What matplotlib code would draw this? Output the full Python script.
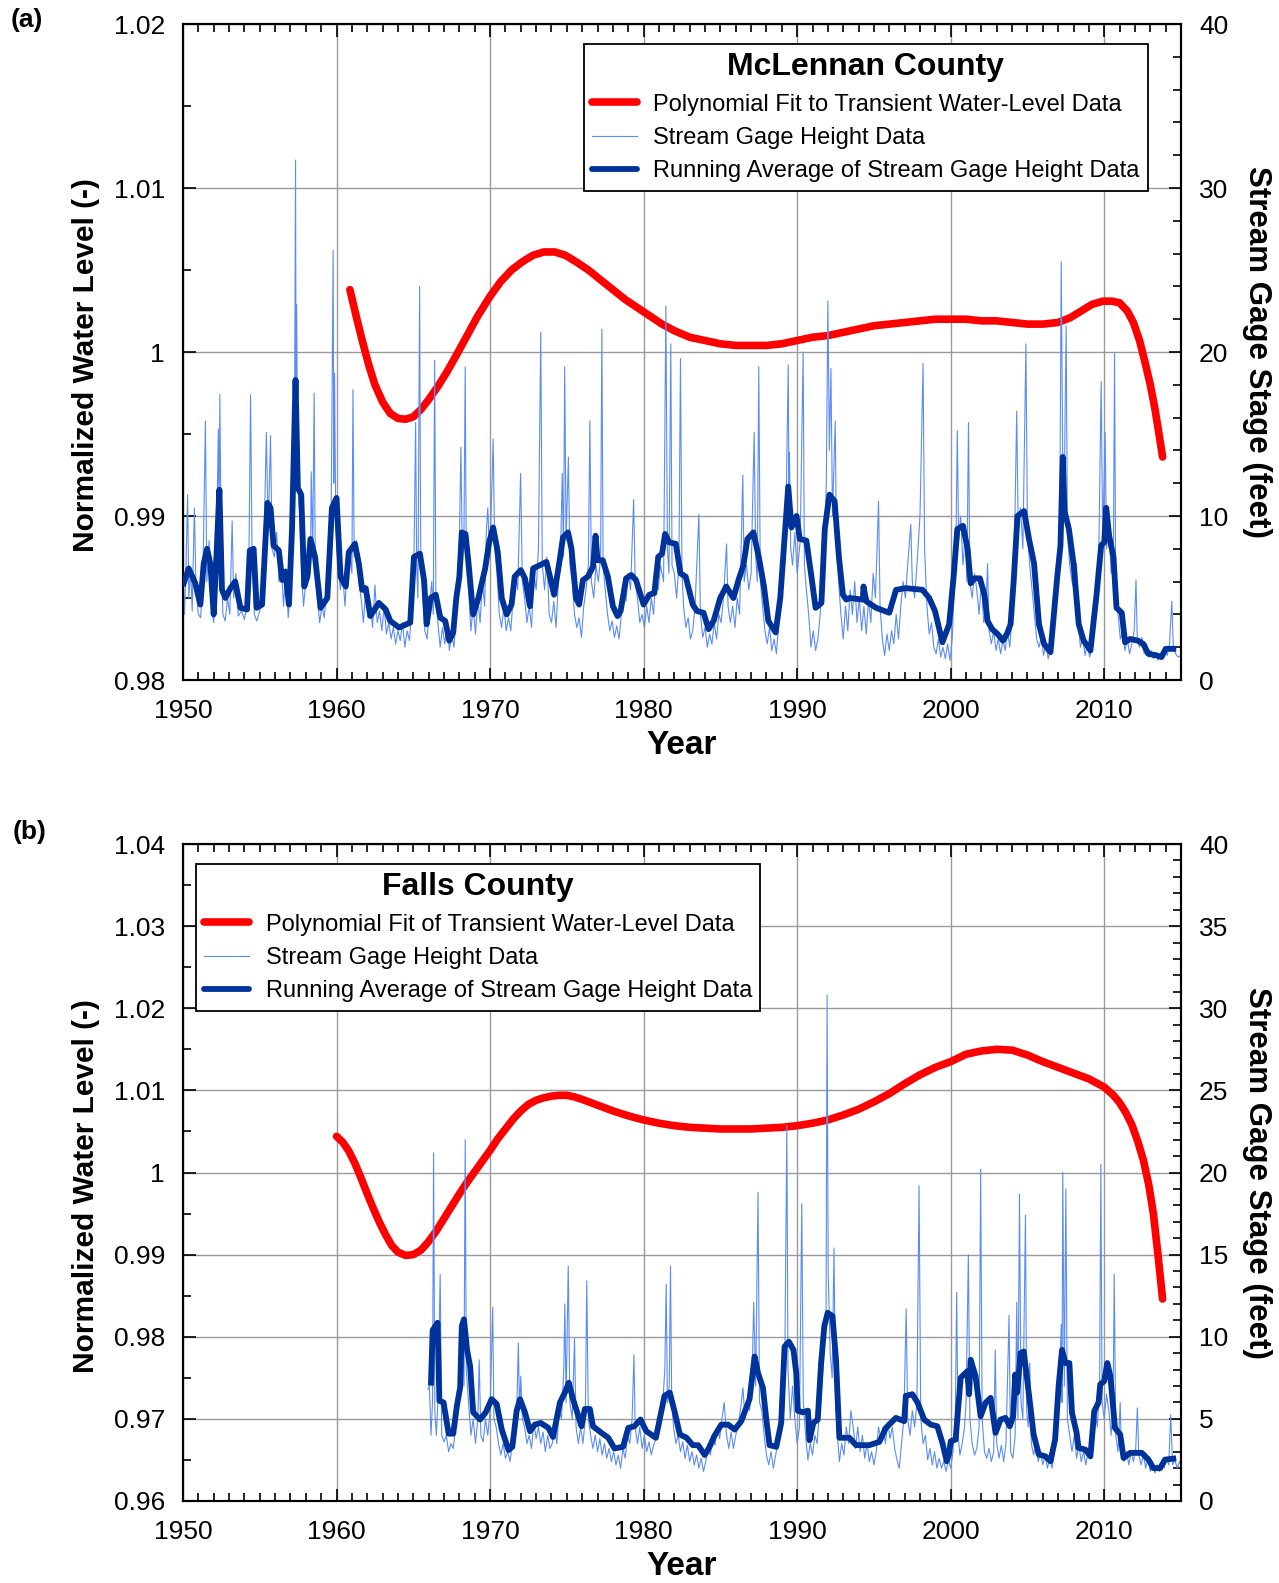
import numpy as np
import matplotlib
matplotlib.use('Agg')
import matplotlib.pyplot as plt
from matplotlib.ticker import MultipleLocator, FuncFormatter
from matplotlib.lines import Line2D

plt.rcParams['font.family'] = ['Liberation Sans', 'DejaVu Sans']

RED = '#ff0000'
RAW = '#5b8cf5'
AVG = '#003399'

# ---- (a) McLennan County ----
# polynomial fit (year, normalized level)
fit_a = [(1960.87, 1.0038), (1961.3, 1.0021), (1961.7, 1.0006), (1962.1, 0.9992), (1962.5, 0.9980),
         (1963.0, 0.99695), (1963.5, 0.99625), (1964.0, 0.99595), (1964.5, 0.9959), (1965.0, 0.99605),
         (1965.5, 0.9965), (1966.0, 0.9971), (1966.6, 0.9979), (1967.2, 0.9988), (1967.8, 0.9998),
         (1968.5, 1.0010), (1969.2, 1.0022), (1970.0, 1.0034), (1970.7, 1.0043), (1971.4, 1.0050),
         (1972.1, 1.0055), (1972.8, 1.0059), (1973.5, 1.0061), (1974.2, 1.0061), (1974.9, 1.0059),
         (1975.6, 1.0055), (1976.4, 1.0050), (1977.2, 1.0044), (1978.0, 1.0038), (1978.8, 1.0032),
         (1979.6, 1.0027), (1980.4, 1.0022), (1981.2, 1.0017), (1982.0, 1.0013), (1983.0, 1.0009),
         (1984.0, 1.0007), (1985.0, 1.0005), (1986.0, 1.0004), (1987.0, 1.0004), (1988.0, 1.0004),
         (1989.0, 1.0005), (1990.0, 1.0007), (1991.0, 1.0009), (1992.0, 1.0010), (1993.0, 1.0012),
         (1994.0, 1.0014), (1995.0, 1.0016), (1996.0, 1.0017), (1997.0, 1.0018), (1998.0, 1.0019),
         (1999.0, 1.0020), (2000.0, 1.0020), (2001.0, 1.0020), (2002.0, 1.0019), (2003.0, 1.0019),
         (2004.0, 1.0018), (2005.0, 1.0017), (2006.0, 1.0017), (2007.0, 1.0018), (2007.8, 1.0021),
         (2008.5, 1.0025), (2009.2, 1.0029), (2009.9, 1.0031), (2010.5, 1.0031), (2011.0, 1.0030),
         (2011.5, 1.0025), (2011.9, 1.0018), (2012.3, 1.0007), (2012.7, 0.9992), (2013.0, 0.9980),
         (2013.3, 0.99655), (2013.55, 0.9951), (2013.8, 0.9936)]

# stream gage height (year, feet)
gage_a = [(1950.0, 6.5), (1950.1, 4.0), (1950.2, 7.2), (1950.3, 11.3), (1950.38, 5.0), (1950.5, 6.8),
          (1950.6, 4.2), (1950.74, 10.5), (1950.85, 5.5), (1951.0, 4.0), (1951.15, 3.8), (1951.3, 6.5),
          (1951.46, 15.8), (1951.55, 6.0), (1951.7, 8.5), (1951.85, 4.5), (1952.0, 3.5), (1952.15, 6.0),
          (1952.3, 15.3), (1952.35, 9.0), (1952.4, 17.4), (1952.5, 7.0), (1952.6, 4.0), (1952.75, 3.6),
          (1952.9, 5.0), (1953.05, 4.0), (1953.2, 9.7), (1953.3, 5.0), (1953.45, 6.5), (1953.6, 3.9),
          (1953.8, 4.2), (1954.0, 3.7), (1954.15, 4.5), (1954.3, 8.0), (1954.4, 17.4), (1954.5, 7.5),
          (1954.65, 4.0), (1954.8, 3.6), (1955.0, 4.2), (1955.15, 6.0), (1955.3, 9.5), (1955.43, 15.1),
          (1955.55, 9.0), (1955.7, 14.9), (1955.8, 8.0), (1955.95, 7.5), (1956.1, 9.0), (1956.25, 6.0),
          (1956.4, 7.0), (1956.55, 4.5), (1956.7, 6.8), (1956.85, 3.8), (1957.0, 5.5), (1957.15, 9.0),
          (1957.25, 12.0), (1957.33, 31.7), (1957.37, 14.0), (1957.4, 22.9), (1957.48, 12.0), (1957.6, 10.0),
          (1957.75, 6.0), (1957.85, 4.5), (1958.0, 6.0), (1958.15, 8.0), (1958.3, 6.5), (1958.35, 12.7),
          (1958.45, 8.0), (1958.54, 17.5), (1958.62, 6.5), (1958.75, 5.0), (1958.9, 3.5), (1959.05, 4.5),
          (1959.2, 3.8), (1959.35, 5.5), (1959.5, 8.5), (1959.65, 10.0), (1959.78, 26.2), (1959.82, 12.0),
          (1959.87, 18.7), (1959.95, 9.5), (1960.1, 7.0), (1960.25, 5.5), (1960.4, 6.5), (1960.55, 4.5),
          (1960.7, 7.0), (1960.85, 8.0), (1961.0, 6.5), (1961.07, 17.7), (1961.15, 7.5), (1961.3, 8.5),
          (1961.45, 6.0), (1961.6, 5.0), (1961.75, 3.5), (1961.9, 5.5), (1962.05, 3.8), (1962.2, 4.5),
          (1962.35, 3.2), (1962.5, 5.8), (1962.65, 3.5), (1962.8, 4.2), (1962.95, 3.0), (1963.1, 4.5),
          (1963.25, 2.8), (1963.4, 3.5), (1963.55, 2.5), (1963.7, 3.2), (1963.85, 2.2), (1964.0, 3.0),
          (1964.15, 2.4), (1964.3, 3.5), (1964.45, 2.0), (1964.6, 3.0), (1964.75, 2.4), (1964.9, 4.5),
          (1965.05, 8.0), (1965.15, 15.7), (1965.22, 7.0), (1965.3, 5.0), (1965.41, 24.0), (1965.48, 8.0),
          (1965.6, 5.5), (1965.75, 3.0), (1965.9, 2.5), (1966.05, 4.5), (1966.2, 6.0), (1966.3, 4.0),
          (1966.39, 19.5), (1966.47, 5.0), (1966.6, 3.5), (1966.75, 2.0), (1966.9, 3.2), (1967.05, 2.2),
          (1967.2, 3.5), (1967.35, 1.8), (1967.5, 2.8), (1967.65, 2.0), (1967.8, 4.0), (1967.95, 5.5),
          (1968.1, 14.2), (1968.2, 7.0), (1968.3, 9.0), (1968.38, 19.1), (1968.45, 7.0), (1968.6, 5.5),
          (1968.75, 3.0), (1968.9, 4.5), (1969.05, 2.8), (1969.2, 5.0), (1969.35, 3.5), (1969.5, 6.0),
          (1969.65, 4.5), (1969.75, 9.0), (1969.85, 10.5), (1969.95, 8.0), (1970.05, 9.5), (1970.2, 14.7),
          (1970.3, 8.0), (1970.45, 6.5), (1970.6, 4.0), (1970.75, 3.2), (1970.9, 4.5), (1971.05, 3.0),
          (1971.2, 3.8), (1971.35, 3.0), (1971.5, 5.0), (1971.65, 6.5), (1971.8, 5.5), (1971.99, 12.6),
          (1972.1, 6.0), (1972.25, 5.0), (1972.4, 3.5), (1972.55, 4.5), (1972.7, 3.2), (1972.85, 6.5),
          (1973.0, 5.5), (1973.15, 8.0), (1973.3, 21.2), (1973.4, 7.0), (1973.55, 5.5), (1973.7, 7.5),
          (1973.85, 4.0), (1974.0, 3.5), (1974.15, 4.8), (1974.3, 3.2), (1974.45, 6.0), (1974.6, 8.0),
          (1974.7, 12.6), (1974.78, 7.5), (1974.86, 19.1), (1974.95, 8.5), (1975.1, 13.6), (1975.2, 7.0),
          (1975.35, 6.0), (1975.5, 4.0), (1975.65, 3.2), (1975.8, 3.8), (1975.95, 2.6), (1976.1, 4.5),
          (1976.25, 5.5), (1976.4, 7.0), (1976.5, 15.8), (1976.6, 6.0), (1976.75, 5.0), (1976.9, 7.0),
          (1977.05, 6.0), (1977.2, 7.5), (1977.28, 21.4), (1977.36, 7.0), (1977.5, 5.5), (1977.65, 4.0),
          (1977.8, 3.0), (1977.95, 3.6), (1978.1, 2.6), (1978.25, 3.3), (1978.4, 2.5), (1978.55, 4.0),
          (1978.7, 5.5), (1978.85, 4.8), (1979.0, 6.5), (1979.15, 5.5), (1979.35, 11.0), (1979.45, 6.0),
          (1979.6, 5.0), (1979.75, 3.5), (1979.9, 4.0), (1980.05, 3.2), (1980.2, 4.5), (1980.35, 3.5),
          (1980.5, 5.0), (1980.65, 4.0), (1980.8, 6.5), (1980.95, 5.5), (1981.1, 7.0), (1981.3, 6.0),
          (1981.45, 22.8), (1981.55, 8.0), (1981.65, 6.5), (1981.77, 20.5), (1981.85, 7.0), (1982.0, 6.5),
          (1982.15, 5.0), (1982.3, 7.0), (1982.4, 19.6), (1982.5, 6.5), (1982.6, 4.5), (1982.75, 3.2),
          (1982.9, 3.8), (1983.05, 2.5), (1983.2, 3.0), (1983.35, 4.5), (1983.6, 10.1), (1983.7, 4.0),
          (1983.85, 2.6), (1984.0, 3.2), (1984.15, 2.0), (1984.3, 2.8), (1984.45, 2.2), (1984.6, 3.5),
          (1984.75, 2.5), (1984.9, 4.0), (1985.05, 3.5), (1985.2, 5.0), (1985.4, 8.3), (1985.5, 4.5),
          (1985.65, 3.5), (1985.8, 4.5), (1985.95, 3.2), (1986.1, 5.0), (1986.25, 4.0), (1986.46, 12.5),
          (1986.55, 6.0), (1986.7, 7.0), (1986.85, 5.5), (1987.0, 6.5), (1987.2, 15.1), (1987.3, 7.5),
          (1987.4, 6.0), (1987.5, 19.1), (1987.6, 6.0), (1987.75, 4.5), (1987.9, 3.0), (1988.05, 2.2),
          (1988.2, 3.2), (1988.35, 1.8), (1988.5, 2.5), (1988.65, 1.6), (1988.8, 3.5), (1988.95, 5.0),
          (1989.1, 7.0), (1989.25, 9.0), (1989.42, 19.2), (1989.46, 12.0), (1989.5, 13.9), (1989.58, 8.0),
          (1989.7, 7.0), (1989.85, 9.0), (1990.0, 6.5), (1990.2, 8.5), (1990.39, 20.0), (1990.47, 7.0),
          (1990.6, 5.5), (1990.75, 4.0), (1990.9, 2.0), (1991.05, 3.0), (1991.2, 1.8), (1991.35, 2.5),
          (1991.5, 4.0), (1991.65, 6.5), (1991.8, 9.0), (1991.9, 12.0), (1992.0, 23.1), (1992.1, 14.0),
          (1992.2, 19.0), (1992.3, 10.0), (1992.48, 15.8), (1992.56, 8.0), (1992.7, 6.0), (1992.85, 4.0),
          (1993.0, 2.5), (1993.15, 4.5), (1993.3, 3.0), (1993.45, 5.5), (1993.6, 4.0), (1993.75, 6.0),
          (1993.9, 3.5), (1994.05, 5.0), (1994.2, 3.0), (1994.35, 4.5), (1994.5, 2.8), (1994.65, 5.0),
          (1994.8, 3.5), (1994.95, 6.5), (1995.1, 5.0), (1995.3, 10.9), (1995.4, 4.5), (1995.55, 2.5),
          (1995.7, 1.5), (1995.85, 2.8), (1996.0, 1.8), (1996.15, 3.0), (1996.3, 2.2), (1996.45, 4.0),
          (1996.6, 2.5), (1996.75, 4.5), (1996.9, 6.0), (1997.05, 5.0), (1997.2, 7.0), (1997.4, 9.5),
          (1997.5, 6.0), (1997.65, 5.0), (1997.8, 7.0), (1998.0, 10.0), (1998.2, 19.3), (1998.3, 8.0),
          (1998.45, 4.5), (1998.6, 2.8), (1998.75, 3.5), (1998.9, 2.0), (1999.05, 1.6), (1999.2, 2.5),
          (1999.35, 1.4), (1999.5, 2.0), (1999.65, 1.3), (1999.8, 2.2), (1999.95, 1.2), (2000.1, 2.5),
          (2000.25, 6.0), (2000.35, 9.0), (2000.43, 15.2), (2000.52, 8.5), (2000.65, 10.0), (2000.8, 7.0),
          (2000.95, 9.0), (2001.05, 6.0), (2001.16, 15.7), (2001.25, 6.0), (2001.4, 5.0), (2001.55, 6.5),
          (2001.7, 5.5), (2001.85, 4.0), (2002.0, 6.0), (2002.15, 3.5), (2002.3, 4.5), (2002.4, 7.1),
          (2002.5, 3.0), (2002.65, 2.2), (2002.8, 3.0), (2002.95, 1.8), (2003.1, 2.5), (2003.25, 1.6),
          (2003.4, 2.4), (2003.55, 1.8), (2003.7, 3.0), (2003.85, 2.0), (2004.0, 4.0), (2004.15, 8.0),
          (2004.3, 16.4), (2004.4, 9.0), (2004.55, 10.5), (2004.7, 8.0), (2004.9, 20.5), (2005.0, 9.0),
          (2005.15, 7.0), (2005.3, 5.5), (2005.45, 4.0), (2005.6, 2.5), (2005.75, 2.0), (2005.9, 2.6),
          (2006.05, 1.5), (2006.2, 2.2), (2006.35, 1.3), (2006.5, 1.8), (2006.65, 2.5), (2006.8, 5.0),
          (2006.95, 7.0), (2007.1, 9.0), (2007.2, 25.5), (2007.3, 13.0), (2007.4, 12.0), (2007.52, 21.6),
          (2007.6, 9.0), (2007.75, 7.0), (2007.9, 6.0), (2008.05, 5.5), (2008.2, 7.1), (2008.3, 3.5),
          (2008.45, 2.0), (2008.6, 2.6), (2008.75, 1.5), (2008.9, 2.2), (2009.05, 1.4), (2009.2, 2.0),
          (2009.35, 3.5), (2009.5, 5.5), (2009.65, 8.0), (2009.8, 18.2), (2009.9, 8.5), (2010.06, 15.1),
          (2010.15, 8.0), (2010.3, 9.5), (2010.45, 6.5), (2010.6, 8.0), (2010.67, 19.9), (2010.75, 5.0),
          (2010.9, 4.0), (2011.05, 2.5), (2011.2, 3.0), (2011.35, 1.8), (2011.5, 2.5), (2011.65, 1.6),
          (2011.8, 2.2), (2011.95, 3.0), (2012.07, 6.1), (2012.15, 2.5), (2012.3, 2.0), (2012.45, 2.6),
          (2012.6, 1.6), (2012.75, 2.2), (2012.9, 1.4), (2013.05, 1.8), (2013.2, 1.3), (2013.35, 1.7),
          (2013.5, 1.2), (2013.65, 1.6), (2013.8, 1.3), (2013.95, 2.0), (2014.1, 1.5), (2014.25, 2.2),
          (2014.4, 4.8), (2014.5, 2.0), (2014.65, 1.6), (2014.8, 1.4), (2015.0, 1.5)]

# running average of gage height (year, feet)
avg_a = [(1950.05, 5.9), (1950.37, 6.8), (1950.8, 5.9), (1951.13, 4.6), (1951.35, 7.1), (1951.57, 8.0),
         (1951.78, 7.1), (1952.0, 4.0), (1952.2, 8.0), (1952.37, 11.6), (1952.54, 5.5), (1952.76, 5.0),
         (1953.09, 5.6), (1953.4, 6.0), (1953.74, 4.4), (1954.17, 4.3), (1954.35, 7.9), (1954.6, 8.0),
         (1954.8, 4.4), (1955.15, 4.6), (1955.5, 10.8), (1955.7, 10.5), (1955.9, 8.2), (1956.24, 7.9),
         (1956.46, 6.1), (1956.67, 6.6), (1956.9, 4.6), (1957.1, 9.2), (1957.33, 18.3), (1957.48, 11.7),
         (1957.7, 11.3), (1957.9, 5.7), (1958.1, 6.3), (1958.3, 8.6), (1958.6, 7.5), (1958.96, 4.4),
         (1959.4, 5.0), (1959.7, 10.5), (1960.0, 11.1), (1960.26, 6.3), (1960.6, 5.7), (1960.8, 7.8),
         (1961.2, 8.3), (1961.45, 7.1), (1961.67, 5.5), (1961.9, 5.6), (1962.2, 3.9), (1962.76, 4.7),
         (1963.2, 4.3), (1963.5, 3.6), (1964.07, 3.2), (1964.8, 3.5), (1965.04, 7.5), (1965.43, 7.7),
         (1965.7, 6.1), (1965.87, 3.4), (1966.13, 5.0), (1966.46, 5.2), (1966.76, 3.8), (1967.08, 3.6),
         (1967.34, 2.4), (1967.6, 2.9), (1967.8, 5.0), (1968.0, 6.3), (1968.16, 9.0), (1968.4, 8.9),
         (1968.6, 7.1), (1968.9, 4.0), (1969.24, 5.0), (1969.68, 6.8), (1969.94, 8.4), (1970.2, 9.3),
         (1970.5, 7.8), (1970.76, 5.0), (1971.08, 4.0), (1971.4, 4.6), (1971.6, 6.3), (1972.0, 6.7),
         (1972.27, 6.2), (1972.6, 4.5), (1972.8, 6.8), (1973.24, 7.0), (1973.67, 7.2), (1973.9, 6.3),
         (1974.17, 5.2), (1974.5, 7.1), (1974.75, 8.7), (1975.08, 9.0), (1975.3, 8.0), (1975.6, 5.0),
         (1975.8, 4.6), (1976.05, 6.1), (1976.37, 6.3), (1976.7, 6.9), (1976.87, 8.8), (1977.0, 7.3),
         (1977.34, 7.3), (1977.67, 6.3), (1978.0, 4.5), (1978.3, 3.9), (1978.5, 4.2), (1978.86, 6.2),
         (1979.2, 6.4), (1979.5, 6.1), (1980.0, 4.6), (1980.37, 5.2), (1980.7, 5.3), (1980.95, 7.5),
         (1981.2, 7.7), (1981.4, 8.9), (1981.66, 8.4), (1982.1, 8.3), (1982.4, 6.5), (1982.74, 6.3),
         (1983.2, 4.6), (1983.48, 4.2), (1983.9, 4.1), (1984.23, 3.1), (1984.56, 3.6), (1984.99, 5.0),
         (1985.38, 5.7), (1985.85, 5.0), (1986.18, 6.1), (1986.5, 7.0), (1986.76, 8.6), (1987.15, 9.0),
         (1987.5, 7.5), (1987.84, 5.7), (1988.12, 3.6), (1988.6, 2.9), (1988.9, 5.0), (1989.42, 11.8),
         (1989.63, 9.3), (1989.96, 10.0), (1990.17, 8.6), (1990.6, 8.5), (1990.93, 6.3), (1991.2, 4.4),
         (1991.58, 4.7), (1991.8, 9.2), (1992.1, 11.3), (1992.44, 10.9), (1992.72, 7.5), (1992.98, 5.2),
         (1993.2, 4.9), (1993.41, 5.0), (1994.28, 4.9), (1994.32, 5.7), (1994.5, 4.8), (1995.14, 4.4),
         (1996.0, 4.1), (1996.44, 5.5), (1997.08, 5.6), (1998.16, 5.5), (1998.6, 5.0), (1998.98, 4.2),
         (1999.46, 2.3), (1999.9, 3.4), (2000.2, 6.4), (2000.43, 9.2), (2000.8, 9.4), (2001.1, 8.0),
         (2001.3, 5.9), (2001.55, 6.2), (2001.9, 6.2), (2002.2, 5.2), (2002.4, 3.6), (2002.7, 3.1),
         (2003.06, 2.8), (2003.4, 2.4), (2003.66, 2.8), (2003.9, 3.4), (2004.1, 6.0), (2004.35, 10.0),
         (2004.78, 10.3), (2005.1, 8.6), (2005.43, 7.1), (2005.75, 3.4), (2006.08, 2.2), (2006.5, 1.7),
         (2006.94, 6.3), (2007.15, 8.2), (2007.3, 13.6), (2007.41, 10.3), (2007.7, 9.2), (2008.0, 7.1),
         (2008.34, 3.4), (2008.66, 2.4), (2009.1, 1.8), (2009.5, 5.2), (2009.8, 8.2), (2010.0, 8.4),
         (2010.13, 10.5), (2010.32, 8.8), (2010.6, 7.5), (2010.8, 4.4), (2011.14, 4.1), (2011.36, 2.3),
         (2011.68, 2.5), (2012.2, 2.4), (2012.54, 2.2), (2012.87, 1.6), (2013.4, 1.5), (2013.73, 1.4),
         (2014.0, 1.9), (2014.5, 1.9)]

# ---- (b) Falls County ----
fit_b = [(1960.0, 1.0044), (1960.4, 1.0037), (1960.8, 1.0026), (1961.2, 1.0011), (1961.6, 0.9993),
         (1962.0, 0.9974), (1962.4, 0.9956), (1962.8, 0.9939), (1963.2, 0.9924), (1963.6, 0.9911),
         (1964.0, 0.9903), (1964.5, 0.9899), (1965.0, 0.9900), (1965.5, 0.99055), (1966.0, 0.9916),
         (1966.5, 0.9929), (1967.0, 0.9944), (1967.5, 0.9959), (1968.0, 0.9974), (1968.5, 0.9988),
         (1969.0, 1.0001), (1969.5, 1.0014), (1970.0, 1.0027), (1970.5, 1.0041), (1971.0, 1.0053),
         (1971.5, 1.0065), (1972.0, 1.0075), (1972.5, 1.0083), (1973.0, 1.0088), (1973.5, 1.0091),
         (1974.0, 1.0093), (1974.5, 1.0094), (1975.0, 1.0094), (1975.5, 1.0092), (1976.0, 1.0089),
         (1977.0, 1.0082), (1978.0, 1.0075), (1979.0, 1.0069), (1980.0, 1.0064), (1981.0, 1.0060),
         (1982.0, 1.0057), (1983.0, 1.0055), (1984.0, 1.0054), (1985.0, 1.0053), (1986.0, 1.0053),
         (1987.0, 1.0053), (1988.0, 1.0054), (1989.0, 1.0055), (1990.0, 1.0057), (1991.0, 1.0060),
         (1992.0, 1.0064), (1993.0, 1.0070), (1994.0, 1.0077), (1995.0, 1.0086), (1996.0, 1.0096),
         (1997.0, 1.0108), (1998.0, 1.0119), (1999.0, 1.0128), (2000.0, 1.0135), (2001.0, 1.0144),
         (2002.0, 1.0148), (2003.0, 1.0150), (2004.0, 1.0149), (2005.0, 1.0143), (2006.0, 1.0135),
         (2007.0, 1.0128), (2008.0, 1.0121), (2009.0, 1.0114), (2010.0, 1.0104), (2010.6, 1.0094),
         (2011.0, 1.0085), (2011.4, 1.0073), (2011.8, 1.0058), (2012.2, 1.0037), (2012.55, 1.0015),
         (2012.9, 0.9985), (2013.2, 0.9950), (2013.5, 0.9900), (2013.8, 0.9846)]

gage_b = [(1965.95, 6.8), (1966.05, 7.0), (1966.15, 4.0), (1966.25, 6.0), (1966.32, 21.2), (1966.4, 5.5),
          (1966.5, 4.0), (1966.6, 6.0), (1966.75, 13.8), (1966.85, 4.0), (1967.0, 3.6), (1967.15, 4.0),
          (1967.3, 3.0), (1967.45, 3.5), (1967.6, 3.2), (1967.75, 4.5), (1967.9, 6.0), (1968.05, 8.0),
          (1968.2, 10.0), (1968.3, 7.0), (1968.38, 22.0), (1968.45, 8.0), (1968.6, 6.0), (1968.75, 4.0),
          (1968.9, 5.0), (1969.05, 3.5), (1969.2, 5.0), (1969.29, 8.6), (1969.4, 4.0), (1969.55, 3.6),
          (1969.7, 5.0), (1969.85, 4.0), (1970.0, 5.5), (1970.17, 11.8), (1970.25, 5.0), (1970.4, 4.5),
          (1970.55, 3.5), (1970.7, 2.8), (1970.85, 3.5), (1971.0, 2.6), (1971.15, 3.0), (1971.3, 2.4),
          (1971.45, 3.5), (1971.6, 4.5), (1971.75, 6.0), (1971.84, 9.6), (1971.92, 5.5), (1972.0, 7.6),
          (1972.1, 5.0), (1972.25, 4.5), (1972.4, 3.5), (1972.55, 4.0), (1972.7, 3.2), (1972.85, 4.8),
          (1973.0, 3.8), (1973.15, 4.5), (1973.3, 3.5), (1973.45, 4.2), (1973.6, 3.0), (1973.75, 4.0),
          (1973.9, 3.2), (1974.05, 3.5), (1974.2, 4.5), (1974.35, 3.5), (1974.5, 5.5), (1974.65, 5.0),
          (1974.8, 8.0), (1974.87, 12.0), (1974.95, 6.0), (1975.09, 14.3), (1975.2, 6.0), (1975.35, 5.0),
          (1975.5, 9.9), (1975.6, 4.5), (1975.75, 3.5), (1975.9, 4.5), (1976.05, 3.5), (1976.2, 5.0),
          (1976.3, 13.4), (1976.4, 5.0), (1976.55, 4.0), (1976.7, 3.2), (1976.85, 4.0), (1977.0, 3.0),
          (1977.15, 3.8), (1977.3, 2.8), (1977.45, 3.5), (1977.6, 2.6), (1977.75, 3.2), (1977.9, 2.4),
          (1978.05, 3.0), (1978.2, 2.2), (1978.35, 2.8), (1978.5, 2.0), (1978.65, 3.2), (1978.8, 2.6),
          (1978.95, 4.0), (1979.1, 3.5), (1979.25, 5.0), (1979.37, 8.9), (1979.45, 4.5), (1979.6, 3.5),
          (1979.75, 4.5), (1979.9, 3.2), (1980.05, 4.0), (1980.2, 3.0), (1980.35, 3.6), (1980.5, 2.8),
          (1980.65, 3.4), (1980.8, 3.8), (1980.95, 5.0), (1981.1, 4.5), (1981.25, 6.0), (1981.38, 8.0),
          (1981.47, 13.2), (1981.55, 6.0), (1981.67, 7.0), (1981.75, 14.3), (1981.83, 6.0), (1981.95, 4.5),
          (1982.1, 3.5), (1982.25, 4.0), (1982.4, 3.0), (1982.55, 3.6), (1982.7, 2.6), (1982.85, 3.4),
          (1983.0, 2.4), (1983.15, 3.0), (1983.3, 2.2), (1983.45, 2.8), (1983.6, 2.0), (1983.75, 2.6),
          (1983.9, 1.8), (1984.05, 2.4), (1984.2, 3.5), (1984.35, 2.8), (1984.5, 4.0), (1984.65, 3.4),
          (1984.8, 4.5), (1984.95, 3.8), (1985.1, 5.0), (1985.25, 6.0), (1985.4, 4.0), (1985.55, 3.2),
          (1985.7, 4.2), (1985.85, 3.2), (1986.0, 4.0), (1986.15, 4.6), (1986.3, 5.5), (1986.47, 6.9),
          (1986.6, 5.0), (1986.75, 6.0), (1986.9, 5.5), (1987.05, 7.0), (1987.17, 12.1), (1987.3, 7.0),
          (1987.45, 18.8), (1987.55, 6.0), (1987.7, 5.5), (1987.85, 4.0), (1988.0, 2.8), (1988.15, 2.2),
          (1988.3, 3.0), (1988.45, 2.0), (1988.6, 2.8), (1988.75, 3.5), (1988.9, 4.5), (1989.05, 6.0),
          (1989.2, 9.0), (1989.33, 22.9), (1989.4, 8.0), (1989.55, 5.0), (1989.7, 7.0), (1989.85, 5.0),
          (1990.0, 3.5), (1990.15, 4.5), (1990.3, 18.1), (1990.4, 6.0), (1990.55, 4.0), (1990.7, 2.5),
          (1990.85, 3.5), (1991.0, 2.8), (1991.15, 4.0), (1991.3, 3.5), (1991.45, 5.5), (1991.6, 7.0),
          (1991.75, 9.0), (1991.88, 11.0), (1991.95, 30.8), (1992.02, 14.0), (1992.15, 9.0), (1992.28, 7.5),
          (1992.4, 15.4), (1992.5, 6.0), (1992.62, 4.0), (1992.75, 2.4), (1992.9, 3.5), (1993.05, 2.8),
          (1993.2, 4.5), (1993.35, 3.5), (1993.5, 5.5), (1993.65, 4.5), (1993.8, 3.2), (1993.95, 4.5),
          (1994.1, 3.0), (1994.25, 4.0), (1994.4, 2.6), (1994.55, 3.5), (1994.7, 2.4), (1994.85, 3.0),
          (1995.0, 2.2), (1995.15, 3.0), (1995.3, 4.5), (1995.45, 3.8), (1995.6, 4.5), (1995.75, 3.5),
          (1995.9, 4.8), (1996.05, 3.8), (1996.2, 4.5), (1996.35, 3.2), (1996.5, 2.5), (1996.65, 2.0),
          (1996.8, 3.5), (1996.95, 5.0), (1997.1, 11.7), (1997.2, 5.0), (1997.35, 4.0), (1997.5, 5.5),
          (1997.65, 4.5), (1997.8, 6.0), (1997.94, 19.2), (1998.05, 5.0), (1998.2, 3.5), (1998.35, 4.0),
          (1998.5, 2.5), (1998.65, 3.2), (1998.8, 2.2), (1998.95, 3.0), (1999.1, 2.0), (1999.25, 2.6),
          (1999.4, 2.0), (1999.55, 2.4), (1999.7, 1.8), (1999.85, 2.5), (2000.0, 2.0), (2000.15, 3.0),
          (2000.3, 5.0), (2000.39, 12.7), (2000.48, 4.0), (2000.6, 2.8), (2000.75, 3.5), (2000.9, 4.5),
          (2001.0, 6.0), (2001.15, 15.0), (2001.25, 5.0), (2001.4, 3.5), (2001.55, 2.8), (2001.7, 3.2),
          (2001.85, 4.5), (2001.95, 20.2), (2002.05, 5.0), (2002.2, 3.0), (2002.35, 2.6), (2002.5, 3.2),
          (2002.65, 2.4), (2002.8, 3.0), (2002.9, 9.2), (2003.0, 3.5), (2003.15, 2.6), (2003.3, 3.4),
          (2003.45, 2.4), (2003.6, 3.5), (2003.8, 11.3), (2003.9, 3.0), (2004.05, 2.6), (2004.2, 4.0),
          (2004.3, 12.1), (2004.38, 5.0), (2004.48, 18.7), (2004.58, 6.0), (2004.7, 5.0), (2004.87, 17.4),
          (2004.95, 5.5), (2005.05, 4.5), (2005.15, 8.4), (2005.25, 3.5), (2005.4, 2.8), (2005.55, 3.4),
          (2005.7, 2.4), (2005.85, 3.0), (2006.0, 2.2), (2006.15, 2.8), (2006.3, 2.0), (2006.45, 2.6),
          (2006.6, 2.0), (2006.75, 3.0), (2006.9, 4.5), (2007.05, 6.0), (2007.2, 10.75), (2007.25, 6.0),
          (2007.3, 20.0), (2007.4, 7.0), (2007.5, 19.0), (2007.6, 5.0), (2007.75, 4.0), (2007.9, 3.0),
          (2008.05, 4.0), (2008.2, 2.6), (2008.35, 3.4), (2008.5, 2.4), (2008.65, 3.0), (2008.8, 2.2),
          (2008.95, 3.0), (2009.1, 2.6), (2009.25, 4.0), (2009.4, 5.5), (2009.55, 4.5), (2009.7, 7.0),
          (2009.78, 20.5), (2009.86, 6.0), (2010.0, 5.0), (2010.15, 6.5), (2010.3, 5.5), (2010.45, 4.0),
          (2010.58, 6.0), (2010.65, 13.8), (2010.75, 4.0), (2010.9, 3.0), (2011.04, 6.0), (2011.12, 3.0),
          (2011.3, 2.4), (2011.45, 3.0), (2011.6, 2.2), (2011.75, 3.0), (2011.9, 2.4), (2012.05, 3.2),
          (2012.16, 5.67), (2012.25, 2.8), (2012.4, 2.2), (2012.55, 2.8), (2012.7, 2.0), (2012.85, 2.6),
          (2013.0, 1.8), (2013.15, 2.4), (2013.3, 1.7), (2013.45, 2.2), (2013.6, 1.8), (2013.75, 2.4),
          (2013.9, 2.0), (2014.05, 2.6), (2014.2, 2.2), (2014.33, 5.26), (2014.45, 2.2), (2014.6, 2.5),
          (2014.75, 2.0), (2014.9, 2.4), (2015.0, 2.2)]

avg_b = [(1966.15, 7.2), (1966.26, 10.4), (1966.58, 10.85), (1966.7, 6.1), (1966.97, 6.0), (1967.3, 4.1),
         (1967.6, 4.1), (1967.84, 5.8), (1968.05, 6.9), (1968.16, 10.65), (1968.3, 11.06), (1968.5, 9.2),
         (1968.7, 8.2), (1968.9, 5.4), (1969.35, 4.96), (1969.72, 5.4), (1970.1, 6.2), (1970.43, 5.9),
         (1970.76, 4.35), (1971.2, 3.1), (1971.45, 3.3), (1971.73, 5.5), (1971.95, 6.2), (1972.27, 5.4),
         (1972.6, 4.25), (1972.92, 4.65), (1973.3, 4.75), (1973.8, 4.45), (1974.1, 3.9), (1974.55, 6.0),
         (1974.87, 6.6), (1975.13, 7.2), (1975.4, 6.2), (1975.74, 5.2), (1975.95, 4.55), (1976.17, 5.6),
         (1976.5, 5.6), (1976.7, 4.55), (1977.25, 4.15), (1977.7, 3.85), (1978.1, 3.2), (1978.66, 3.3),
         (1979.0, 4.45), (1979.4, 4.55), (1979.8, 4.96), (1980.17, 4.25), (1980.8, 3.85), (1981.1, 5.2),
         (1981.36, 6.4), (1981.7, 6.6), (1982.03, 5.4), (1982.36, 4.05), (1982.8, 3.85), (1983.2, 3.4),
         (1983.55, 3.4), (1983.98, 2.8), (1984.3, 3.3), (1984.6, 3.95), (1985.06, 4.65), (1985.5, 4.65),
         (1985.93, 4.35), (1986.36, 4.86), (1986.64, 5.57), (1986.9, 6.2), (1987.23, 8.8), (1987.45, 7.8),
         (1987.77, 6.9), (1987.99, 4.96), (1988.2, 3.4), (1988.64, 3.3), (1988.96, 4.75), (1989.18, 9.4),
         (1989.46, 9.7), (1989.76, 9.2), (1989.94, 7.8), (1990.04, 5.5), (1990.37, 5.4), (1990.7, 5.5),
         (1990.8, 3.7), (1991.06, 4.75), (1991.34, 4.96), (1991.56, 8.4), (1991.77, 10.65), (1991.99, 11.46),
         (1992.3, 11.26), (1992.53, 8.6), (1992.75, 3.85), (1993.4, 3.85), (1993.83, 3.4), (1994.7, 3.4),
         (1995.35, 3.6), (1995.78, 4.45), (1996.43, 5.06), (1996.97, 4.86), (1997.08, 6.4), (1997.5, 6.5),
         (1997.84, 6.0), (1998.27, 4.96), (1998.7, 4.65), (1999.13, 4.55), (1999.46, 3.54), (1999.74, 2.42),
         (1999.9, 2.9), (2000.0, 3.64), (2000.32, 3.74), (2000.65, 7.5), (2000.87, 7.7), (2001.08, 7.9),
         (2001.2, 6.5), (2001.3, 8.6), (2001.62, 7.6), (2001.95, 5.16), (2002.27, 5.98), (2002.6, 6.28),
         (2002.92, 4.15), (2003.25, 4.96), (2003.57, 5.06), (2003.85, 4.55), (2004.07, 5.16), (2004.2, 7.7),
         (2004.33, 6.6), (2004.55, 9.0), (2004.76, 9.1), (2004.98, 7.4), (2005.2, 5.67), (2005.4, 4.05),
         (2005.74, 2.83), (2006.17, 2.72), (2006.5, 2.42), (2006.8, 3.74), (2007.03, 7.0), (2007.25, 9.2),
         (2007.47, 8.4), (2007.73, 8.4), (2007.9, 5.37), (2008.2, 4.15), (2008.33, 3.23), (2008.77, 3.13),
         (2009.1, 2.72), (2009.35, 5.47), (2009.63, 6.0), (2009.74, 7.1), (2010.0, 7.3), (2010.2, 8.4),
         (2010.4, 7.6), (2010.7, 4.45), (2011.04, 4.05), (2011.26, 2.62), (2011.69, 2.93), (2012.45, 2.93),
         (2012.88, 2.52), (2013.2, 2.0), (2013.64, 2.0), (2013.96, 2.52), (2014.5, 2.58)]


def panel(fig, rect, tag, tag_xy, title, fit_label, fit, gage, avg, ylim, ystep, rstep, rminor, leg_loc, leg_anchor):
    ax = fig.add_axes(rect)
    ax2 = ax.twinx()

    fx, fy = np.array(fit).T
    gx, gy = np.array(gage).T
    vx, vy = np.array(avg).T

    ax.plot(fx, fy, color=RED, lw=5.5, solid_capstyle='round', zorder=3)
    ax2.plot(gx, gy, color=RAW, lw=0.8, zorder=2)
    ax2.plot(vx, vy, color=AVG, lw=4.2, solid_joinstyle='round', zorder=3)

    ax.set_xlim(1950, 2015)
    ax.set_ylim(*ylim)
    ax2.set_ylim(0, 40)

    ax.xaxis.set_major_locator(MultipleLocator(10))
    ax.xaxis.set_minor_locator(MultipleLocator(1))
    ax.yaxis.set_major_locator(MultipleLocator(ystep))
    ax.yaxis.set_minor_locator(MultipleLocator(ystep / 2))
    ax.yaxis.set_major_formatter(FuncFormatter(lambda v, p: f'{v:g}'))
    ax2.yaxis.set_major_locator(MultipleLocator(rstep))
    ax2.yaxis.set_minor_locator(MultipleLocator(rminor))

    ax.grid(True, which='major', color='#9a9a9a', lw=1.0)
    ax.set_axisbelow(True)

    ax.tick_params(which='both', direction='in', top=True, labelsize=19, width=1.2)
    ax.tick_params(axis='x', pad=14)
    ax.tick_params(axis='y', pad=13)
    ax.tick_params(which='major', length=9)
    ax.tick_params(which='minor', length=6)
    ax2.tick_params(which='both', direction='in', labelsize=19, width=1.2, pad=13)
    ax2.tick_params(which='major', length=9)
    ax2.tick_params(which='minor', length=6)
    for a in (ax, ax2):
        for s in a.spines.values():
            s.set_linewidth(1.5)

    ax.set_xlabel('Year', fontsize=24, fontweight='bold', va='center')
    ax.set_ylabel('Normalized Water Level (-)', fontsize=21.5, fontweight='bold', va='center')
    ax2.set_ylabel('Stream Gage Stage (feet)', fontsize=22.5, fontweight='bold', rotation=270, va='center')
    ax.xaxis.set_label_coords(0.5, -0.100)
    ax.yaxis.set_label_coords(-0.097, 0.48)
    ax2.yaxis.set_label_coords(1.076, 0.5)

    handles = [Line2D([], [], color=RED, lw=5.5, solid_capstyle='round'),
               Line2D([], [], color=RAW, lw=0.8),
               Line2D([], [], color=AVG, lw=4.2, solid_capstyle='round')]
    labels = [fit_label, 'Stream Gage Height Data', 'Running Average of Stream Gage Height Data']
    leg = ax2.legend(handles, labels, loc=leg_loc, bbox_to_anchor=leg_anchor, title=title,
                     title_fontproperties={'weight': 'bold', 'size': 23}, fontsize=17,
                     frameon=True, fancybox=False, framealpha=1, edgecolor='black',
                     borderaxespad=0, borderpad=0.35, labelspacing=0.48, handlelength=1.9,
                     handletextpad=0.7)
    leg.get_frame().set_linewidth(1.3)

    fig.text(tag_xy[0] / 1279, 1 - tag_xy[1] / 1583, tag, fontsize=19, fontweight='bold',
             ha='center', va='center')
    return ax, ax2


fig = plt.figure(figsize=(12.79, 15.83), dpi=100)

panel(fig, [183 / 1279, 1 - 680 / 1583, 998 / 1279, 656 / 1583], '(a)', (27, 20), 'McLennan County',
      'Polynomial Fit to Transient Water-Level Data', fit_a, gage_a, avg_a,
      (0.98, 1.02), 0.01, 10, 2, 'upper right', (0.967, 0.9695))

panel(fig, [183 / 1279, 1 - 1501 / 1583, 998 / 1279, 657 / 1583], '(b)', (30, 832), 'Falls County',
      'Polynomial Fit of Transient Water-Level Data', fit_b, gage_b, avg_b,
      (0.96, 1.04), 0.01, 5, 1, 'upper left', (0.013, 0.9696))

fig.savefig('out.png', dpi=100)
